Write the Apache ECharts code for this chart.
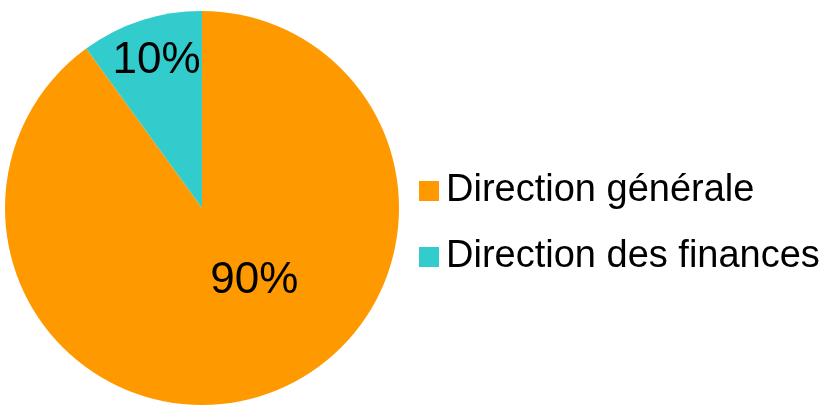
<!DOCTYPE html>
<html>
<head>
<meta charset="utf-8">
<script src="https://cdn.jsdelivr.net/npm/echarts@6/dist/echarts.min.js"></script>
<style>html,body{margin:0;padding:0;background:#fff}#c{width:823px;height:405px}</style>
</head>
<body>
<div id="c"></div>
<script>
const categories = ["Direction générale", "Direction des finances"];
const values = [90, 10];
const colors = ["#FF9900", "#33CCCC"];
const labelOffsets = [[21, -24], [-14, -51]];

const chart = echarts.init(document.getElementById('c'), null, {renderer: 'canvas'});
chart.setOption({
  animation: false,
  backgroundColor: '#ffffff',
  legend: {
    orient: 'vertical',
    left: 414,
    top: 167,
    itemWidth: 20,
    itemHeight: 20,
    itemGap: 28,
    icon: 'rect',
    data: categories,
    textStyle: {
      fontFamily: 'Liberation Sans, Arial, sans-serif',
      fontSize: 38,
      lineHeight: 38,
      color: '#000',
      padding: [0, 0, 0, 2]
    }
  },
  series: [{
    type: 'pie',
    center: [202, 208],
    radius: [0, 197],
    startAngle: 90,
    clockwise: true,
    avoidLabelOverlap: false,
    label: {
      show: true,
      position: 'inside',
      formatter: p => p.value + '%',
      fontFamily: 'Liberation Sans, Arial, sans-serif',
      fontSize: 44,
      color: '#000'
    },
    labelLine: {show: false},
    emphasis: {disabled: true},
    data: categories.map((n, i) => ({
      name: n,
      value: values[i],
      itemStyle: {color: colors[i]},
      label: {offset: labelOffsets[i]}
    }))
  }]
});
</script>
</body>
</html>
